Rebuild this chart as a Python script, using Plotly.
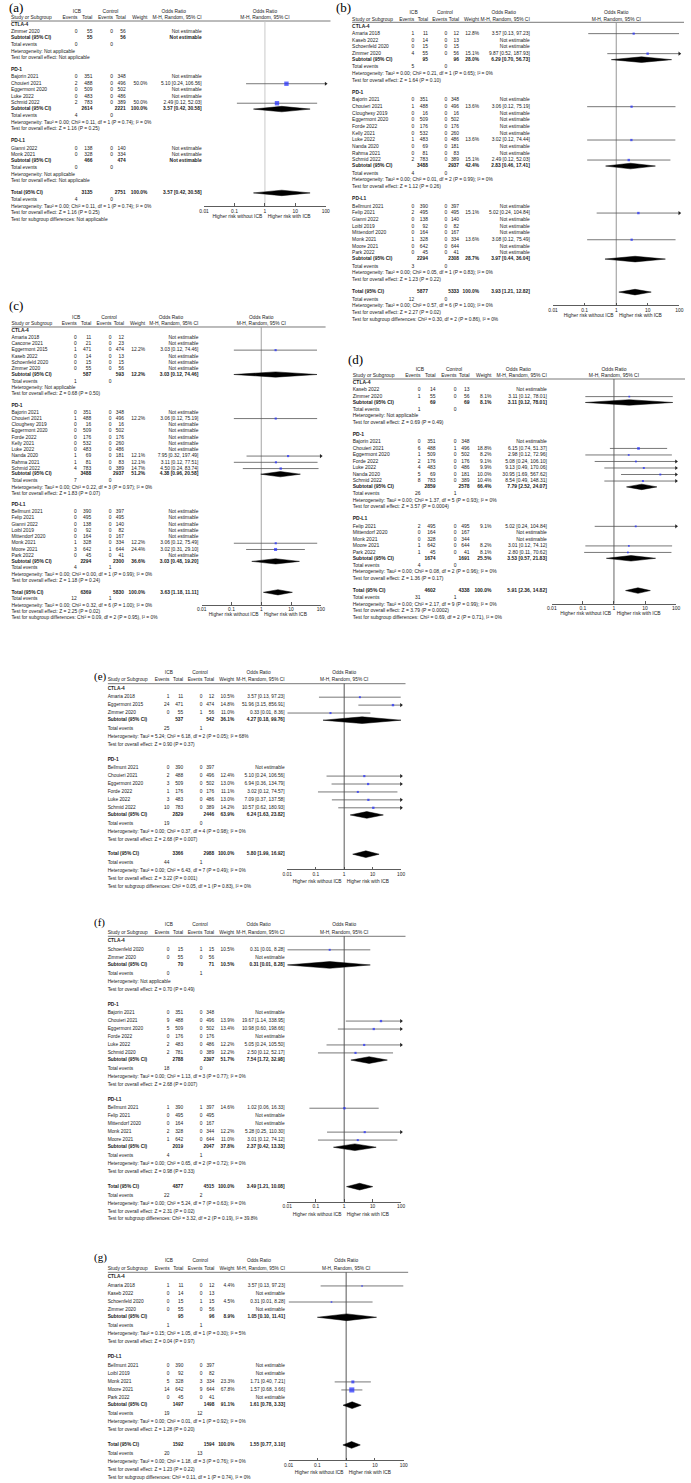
import plotly.graph_objects as go

W, H = 691, 1483
N = None

# ---------------- (a) ----------------
A_GROUP = ["CTLA-4", "PD-1", "PD-1", "PD-1", "PD-1", "PD-1", "PD-L1", "PD-L1"]
A_STUDY = ["Zimmer 2020", "Bajorin 2021", "Chouieri 2021", "Eggermont 2020", "Luke 2022", "Schmid 2022", "Gianni 2022", "Monk 2021"]
A_ICB_EV = [0, 0, 2, 0, 0, 2, 0, 0]
A_ICB_N = [55, 351, 488, 509, 483, 783, 138, 328]
A_CTL_EV = [0, 0, 0, 0, 0, 0, 0, 0]
A_CTL_N = [56, 348, 496, 502, 486, 389, 140, 334]
A_WEIGHT = [N, N, 50.0, N, N, 50.0, N, N]
A_OR = [N, N, 5.10, N, N, 2.49, N, N]
A_LO = [N, N, 0.24, N, N, 0.12, N, N]
A_HI = [N, N, 106.56, N, N, 52.03, N, N]
A_SUB_NAME = ["CTLA-4", "PD-1", "PD-L1"]
A_SUB_ICB_EV = [0, 4, 0]
A_SUB_ICB_N = [55, 2614, 466]
A_SUB_CTL_EV = [0, 0, 0]
A_SUB_CTL_N = [56, 2221, 474]
A_SUB_WEIGHT = [N, 100.0, N]
A_SUB_OR = [N, 3.57, N]
A_SUB_LO = [N, 0.42, N]
A_SUB_HI = [N, 30.58, N]
A_SUB_HET = ["Not applicable", "Tau² = 0.00; Chi² = 0.11, df = 1 (P = 0.74); I² = 0%", "Not applicable"]
A_SUB_TEST = ["Not applicable", "Z = 1.16 (P = 0.25)", "Not applicable"]
A_TOT_N = [3135, 2751]
A_TOT_EV = [4, 0]
A_TOT_EST = [3.57, 0.42, 30.58]
A_TOT_STATS = ["Tau² = 0.00; Chi² = 0.11, df = 1 (P = 0.74); I² = 0%", "Z = 1.16 (P = 0.25)", "Not applicable"]

# ---------------- (b) ----------------
B_GROUP = ["CTLA-4"] * 4 + ["PD-1"] * 10 + ["PD-L1"] * 8
B_STUDY = ["Amaria 2018", "Kaseb 2022", "Schoenfeld 2020", "Zimmer 2020",
           "Bajorin 2021", "Chouieri 2021", "Cloughesy 2019", "Eggermont 2020", "Forde 2022", "Kelly 2021",
           "Luke 2022", "Nanda 2020", "Rahma 2021", "Schmid 2022",
           "Bellmunt 2021", "Felip 2021", "Gianni 2022", "Loibl 2019", "Mittendorf 2020", "Monk 2021",
           "Moore 2021", "Park 2022"]
B_ICB_EV = [1, 0, 0, 4, 0, 1, 0, 0, 0, 0, 1, 0, 0, 2, 0, 2, 0, 0, 0, 1, 0, 0]
B_ICB_N = [11, 14, 15, 55, 351, 488, 16, 509, 176, 532, 483, 69, 81, 783, 390, 495, 138, 92, 164, 328, 642, 45]
B_CTL_EV = [0] * 22
B_CTL_N = [12, 13, 15, 56, 348, 496, 16, 502, 176, 260, 486, 181, 83, 389, 397, 495, 140, 82, 167, 334, 644, 41]
B_WEIGHT = [12.8, N, N, 15.1, N, 13.6, N, N, N, N, 13.6, N, N, 15.1, N, 15.1, N, N, N, 13.6, N, N]
B_OR = [3.57, N, N, 9.87, N, 3.06, N, N, N, N, 3.02, N, N, 2.49, N, 5.02, N, N, N, 3.08, N, N]
B_LO = [0.13, N, N, 0.52, N, 0.12, N, N, N, N, 0.12, N, N, 0.12, N, 0.24, N, N, N, 0.12, N, N]
B_HI = [97.23, N, N, 187.93, N, 75.19, N, N, N, N, 74.44, N, N, 52.03, N, 104.84, N, N, N, 75.49, N, N]
B_SUB_NAME = ["CTLA-4", "PD-1", "PD-L1"]
B_SUB_ICB_EV = [5, 4, 3]
B_SUB_ICB_N = [95, 3488, 2294]
B_SUB_CTL_EV = [0, 0, 0]
B_SUB_CTL_N = [96, 2937, 2308]
B_SUB_WEIGHT = [28.0, 42.4, 28.7]
B_SUB_OR = [6.29, 2.83, 3.97]
B_SUB_LO = [0.70, 0.46, 0.44]
B_SUB_HI = [56.73, 17.41, 36.04]
B_SUB_HET = ["Tau² = 0.00; Chi² = 0.21, df = 1 (P = 0.65); I² = 0%",
             "Tau² = 0.00; Chi² = 0.01, df = 2 (P = 0.99); I² = 0%",
             "Tau² = 0.00; Chi² = 0.05, df = 1 (P = 0.83); I² = 0%"]
B_SUB_TEST = ["Z = 1.64 (P = 0.10)", "Z = 1.12 (P = 0.26)", "Z = 1.23 (P = 0.22)"]
B_TOT_N = [5877, 5333]
B_TOT_EV = [12, 0]
B_TOT_EST = [3.93, 1.21, 12.82]
B_TOT_STATS = ["Tau² = 0.00; Chi² = 0.57, df = 6 (P = 1.00); I² = 0%", "Z = 2.27 (P = 0.02)",
               "Chi² = 0.30, df = 2 (P = 0.86), I² = 0%"]

# ---------------- (c) ----------------
C_GROUP = ["CTLA-4"] * 6 + ["PD-1"] * 10 + ["PD-L1"] * 8
C_STUDY = ["Amaria 2018", "Cascone 2021", "Eggermont 2015", "Kaseb 2022", "Schoenfeld 2020", "Zimmer 2020",
           "Bajorin 2021", "Chouieri 2021", "Cloughesy 2019", "Eggermont 2020", "Forde 2022", "Kelly 2021",
           "Luke 2022", "Nanda 2020", "Rahma 2021", "Schmid 2022",
           "Bellmunt 2021", "Felip 2021", "Gianni 2022", "Loibl 2019", "Mittendorf 2020", "Monk 2021",
           "Moore 2021", "Park 2022"]
C_ICB_EV = [0, 0, 1, 0, 0, 0, 0, 1, 0, 0, 0, 0, 0, 1, 1, 4, 0, 0, 0, 0, 0, 1, 3, 0]
C_ICB_N = [11, 21, 471, 14, 15, 55, 351, 488, 16, 509, 176, 532, 483, 69, 81, 783, 390, 495, 138, 92, 164, 328, 642, 45]
C_CTL_EV = [0, 0, 0, 0, 0, 0, 0, 0, 0, 0, 0, 0, 0, 0, 0, 0, 0, 0, 0, 0, 0, 0, 1, 0]
C_CTL_N = [12, 23, 474, 13, 15, 56, 348, 496, 16, 502, 176, 260, 486, 181, 83, 389, 397, 495, 140, 82, 167, 334, 644, 41]
C_WEIGHT = [N, N, 12.2, N, N, N, N, 12.2, N, N, N, N, N, 12.1, 12.1, 14.7, N, N, N, N, N, 12.2, 24.4, N]
C_OR = [N, N, 3.03, N, N, N, N, 3.06, N, N, N, N, N, 7.95, 3.11, 4.50, N, N, N, N, N, 3.06, 3.02, N]
C_LO = [N, N, 0.12, N, N, N, N, 0.12, N, N, N, N, N, 0.32, 0.12, 0.24, N, N, N, N, N, 0.12, 0.31, N]
C_HI = [N, N, 74.46, N, N, N, N, 75.19, N, N, N, N, N, 197.49, 77.51, 83.74, N, N, N, N, N, 75.49, 29.10, N]
C_SUB_NAME = ["CTLA-4", "PD-1", "PD-L1"]
C_SUB_ICB_EV = [1, 7, 4]
C_SUB_ICB_N = [587, 3488, 2294]
C_SUB_CTL_EV = [0, 0, 1]
C_SUB_CTL_N = [593, 2937, 2300]
C_SUB_WEIGHT = [12.2, 51.2, 36.6]
C_SUB_OR = [3.03, 4.38, 3.03]
C_SUB_LO = [0.12, 0.96, 0.48]
C_SUB_HI = [74.46, 20.58, 19.20]
C_SUB_HET = ["Not applicable",
             "Tau² = 0.00; Chi² = 0.22, df = 3 (P = 0.97); I² = 0%",
             "Tau² = 0.00; Chi² = 0.00, df = 1 (P = 0.99); I² = 0%"]
C_SUB_TEST = ["Z = 0.68 (P = 0.50)", "Z = 1.83 (P = 0.07)", "Z = 1.18 (P = 0.24)"]
C_TOT_N = [6369, 5830]
C_TOT_EV = [12, 1]
C_TOT_EST = [3.63, 1.18, 11.11]
C_TOT_STATS = ["Tau² = 0.00; Chi² = 0.32, df = 6 (P = 1.00); I² = 0%", "Z = 2.25 (P = 0.02)",
               "Chi² = 0.09, df = 2 (P = 0.95), I² = 0%"]

# ---------------- (d) ----------------
D_GROUP = ["CTLA-4"] * 2 + ["PD-1"] * 7 + ["PD-L1"] * 5
D_STUDY = ["Kaseb 2022", "Zimmer 2020",
           "Bajorin 2021", "Chouieri 2021", "Eggermont 2020", "Forde 2022", "Luke 2022", "Nanda 2020", "Schmid 2022",
           "Felip 2021", "Mittendorf 2020", "Monk 2021", "Moore 2021", "Park 2022"]
D_ICB_EV = [0, 1, 0, 6, 1, 2, 4, 5, 8, 2, 0, 0, 1, 1]
D_ICB_N = [14, 55, 351, 488, 509, 176, 483, 69, 783, 495, 164, 328, 642, 45]
D_CTL_EV = [0, 0, 0, 1, 0, 0, 0, 0, 0, 0, 0, 0, 0, 0]
D_CTL_N = [13, 56, 348, 496, 502, 176, 486, 181, 389, 495, 167, 344, 644, 41]
D_WEIGHT = [N, 8.1, N, 18.8, 8.2, 9.1, 9.9, 10.0, 10.4, 9.1, N, N, 8.2, 8.1]
D_OR = [N, 3.11, N, 6.15, 2.98, 5.08, 9.13, 30.95, 8.54, 5.02, N, N, 3.01, 2.80]
D_LO = [N, 0.12, N, 0.74, 0.12, 0.24, 0.49, 1.69, 0.49, 0.24, N, N, 0.12, 0.11]
D_HI = [N, 78.01, N, 51.37, 72.96, 106.10, 170.06, 567.62, 148.31, 104.84, N, N, 74.12, 70.62]
D_SUB_NAME = ["CTLA-4", "PD-1", "PD-L1"]
D_SUB_ICB_EV = [1, 26, 4]
D_SUB_ICB_N = [69, 2859, 1674]
D_SUB_CTL_EV = [0, 1, 0]
D_SUB_CTL_N = [69, 2578, 1691]
D_SUB_WEIGHT = [8.1, 66.4, 25.5]
D_SUB_OR = [3.11, 7.79, 3.53]
D_SUB_LO = [0.12, 2.52, 0.57]
D_SUB_HI = [78.01, 24.07, 21.83]
D_SUB_HET = ["Not applicable",
             "Tau² = 0.00; Chi² = 1.37, df = 5 (P = 0.93); I² = 0%",
             "Tau² = 0.00; Chi² = 0.08, df = 2 (P = 0.96); I² = 0%"]
D_SUB_TEST = ["Z = 0.69 (P = 0.49)", "Z = 3.57 (P = 0.0004)", "Z = 1.36 (P = 0.17)"]
D_TOT_N = [4602, 4338]
D_TOT_EV = [31, 1]
D_TOT_EST = [5.91, 2.36, 14.82]
D_TOT_STATS = ["Tau² = 0.00; Chi² = 2.17, df = 9 (P = 0.99); I² = 0%", "Z = 3.79 (P = 0.0002)",
               "Chi² = 0.69, df = 2 (P = 0.71), I² = 0%"]

# ---------------- (e) ----------------
E_GROUP = ["CTLA-4"] * 3 + ["PD-1"] * 6
E_STUDY = ["Amaria 2018", "Eggermont 2015", "Zimmer 2020",
           "Bellmunt 2021", "Chouieri 2021", "Eggermont 2020", "Forde 2022", "Luke 2022", "Schmid 2022"]
E_ICB_EV = [1, 24, 0, 0, 2, 3, 1, 3, 10]
E_ICB_N = [11, 471, 55, 390, 488, 509, 176, 483, 783]
E_CTL_EV = [0, 0, 1, 0, 0, 0, 0, 0, 0]
E_CTL_N = [12, 474, 56, 397, 496, 502, 176, 486, 389]
E_WEIGHT = [10.5, 14.8, 11.0, N, 12.4, 13.0, 11.1, 13.0, 14.2]
E_OR = [3.57, 51.96, 0.33, N, 5.10, 6.94, 3.02, 7.09, 10.57]
E_LO = [0.13, 3.15, 0.01, N, 0.24, 0.36, 0.12, 0.37, 0.62]
E_HI = [97.23, 856.91, 8.36, N, 106.56, 134.79, 74.57, 137.58, 180.93]
E_SUB_NAME = ["CTLA-4", "PD-1"]
E_SUB_ICB_EV = [25, 19]
E_SUB_ICB_N = [537, 2829]
E_SUB_CTL_EV = [1, 0]
E_SUB_CTL_N = [542, 2446]
E_SUB_WEIGHT = [36.1, 63.9]
E_SUB_OR = [4.27, 6.24]
E_SUB_LO = [0.18, 1.63]
E_SUB_HI = [99.76, 23.82]
E_SUB_HET = ["Tau² = 5.24; Chi² = 6.18, df = 2 (P = 0.05); I² = 68%",
             "Tau² = 0.00; Chi² = 0.37, df = 4 (P = 0.98); I² = 0%"]
E_SUB_TEST = ["Z = 0.90 (P = 0.37)", "Z = 2.68 (P = 0.007)"]
E_TOT_N = [3366, 2988]
E_TOT_EV = [44, 1]
E_TOT_EST = [5.80, 1.99, 16.92]
E_TOT_STATS = ["Tau² = 0.00; Chi² = 6.43, df = 7 (P = 0.49); I² = 0%", "Z = 3.22 (P = 0.001)",
               "Chi² = 0.05, df = 1 (P = 0.83), I² = 0%"]

# ---------------- (f) ----------------
F_GROUP = ["CTLA-4"] * 2 + ["PD-1"] * 6 + ["PD-L1"] * 5
F_STUDY = ["Schoenfeld 2020", "Zimmer 2020",
           "Bajorin 2021", "Chouieri 2021", "Eggermont 2020", "Forde 2022", "Luke 2022", "Schmid 2020",
           "Bellmunt 2021", "Felip 2021", "Mittendorf 2020", "Monk 2021", "Moore 2021"]
F_ICB_EV = [0, 0, 0, 9, 5, 0, 2, 2, 1, 0, 0, 2, 1]
F_ICB_N = [15, 55, 351, 488, 509, 176, 483, 781, 390, 495, 164, 328, 642]
F_CTL_EV = [1, 0, 0, 0, 0, 0, 0, 0, 1, 0, 0, 0, 0]
F_CTL_N = [15, 56, 348, 496, 502, 176, 486, 389, 397, 495, 167, 344, 644]
F_WEIGHT = [10.5, N, N, 13.9, 13.4, N, 12.2, 12.2, 14.6, N, N, 12.2, 11.0]
F_OR = [0.31, N, N, 19.67, 10.98, N, 5.05, 2.50, 1.02, N, N, 5.28, 3.01]
F_LO = [0.01, N, N, 1.14, 0.60, N, 0.24, 0.12, 0.06, N, N, 0.25, 0.12]
F_HI = [8.28, N, N, 338.95, 198.66, N, 105.50, 52.17, 16.33, N, N, 110.30, 74.12]
F_SUB_NAME = ["CTLA-4", "PD-1", "PD-L1"]
F_SUB_ICB_EV = [0, 18, 4]
F_SUB_ICB_N = [70, 2788, 2019]
F_SUB_CTL_EV = [1, 0, 1]
F_SUB_CTL_N = [71, 2397, 2047]
F_SUB_WEIGHT = [10.5, 51.7, 37.8]
F_SUB_OR = [0.31, 7.54, 2.37]
F_SUB_LO = [0.01, 1.72, 0.42]
F_SUB_HI = [8.28, 32.98, 13.33]
F_SUB_HET = ["Not applicable",
             "Tau² = 0.00; Chi² = 1.13, df = 3 (P = 0.77); I² = 0%",
             "Tau² = 0.00; Chi² = 0.65, df = 2 (P = 0.72); I² = 0%"]
F_SUB_TEST = ["Z = 0.70 (P = 0.49)", "Z = 2.68 (P = 0.007)", "Z = 0.98 (P = 0.33)"]
F_TOT_N = [4877, 4515]
F_TOT_EV = [22, 2]
F_TOT_EST = [3.49, 1.21, 10.08]
F_TOT_STATS = ["Tau² = 0.00; Chi² = 5.24, df = 7 (P = 0.63); I² = 0%", "Z = 2.31 (P = 0.02)",
               "Chi² = 3.32, df = 2 (P = 0.19), I² = 39.8%"]

# ---------------- (g) ----------------
G_GROUP = ["CTLA-4"] * 4 + ["PD-L1"] * 5
G_STUDY = ["Amaria 2018", "Kaseb 2022", "Schoenfeld 2020", "Zimmer 2020",
           "Bellmunt 2021", "Loibl 2019", "Monk 2021", "Moore 2021", "Park 2022"]
G_ICB_EV = [1, 0, 0, 0, 0, 0, 5, 14, 0]
G_ICB_N = [11, 14, 15, 55, 390, 92, 328, 642, 45]
G_CTL_EV = [0, 0, 1, 0, 0, 0, 3, 9, 0]
G_CTL_N = [12, 13, 15, 56, 397, 82, 334, 644, 41]
G_WEIGHT = [4.4, N, 4.5, N, N, N, 23.3, 67.8, N]
G_OR = [3.57, N, 0.31, N, N, N, 1.71, 1.57, N]
G_LO = [0.13, N, 0.01, N, N, N, 0.40, 0.68, N]
G_HI = [97.23, N, 8.28, N, N, N, 7.21, 3.66, N]
G_SUB_NAME = ["CTLA-4", "PD-L1"]
G_SUB_ICB_EV = [1, 19]
G_SUB_ICB_N = [95, 1497]
G_SUB_CTL_EV = [1, 12]
G_SUB_CTL_N = [96, 1498]
G_SUB_WEIGHT = [8.9, 91.1]
G_SUB_OR = [1.05, 1.61]
G_SUB_LO = [0.10, 0.78]
G_SUB_HI = [11.41, 3.33]
G_SUB_HET = ["Tau² = 0.15; Chi² = 1.05, df = 1 (P = 0.30); I² = 5%",
             "Tau² = 0.00; Chi² = 0.01, df = 1 (P = 0.92); I² = 0%"]
G_SUB_TEST = ["Z = 0.04 (P = 0.97)", "Z = 1.28 (P = 0.20)"]
G_TOT_N = [1592, 1594]
G_TOT_EV = [20, 13]
G_TOT_EST = [1.55, 0.77, 3.10]
G_TOT_STATS = ["Tau² = 0.00; Chi² = 1.18, df = 3 (P = 0.76); I² = 0%", "Z = 1.23 (P = 0.22)",
               "Chi² = 0.11, df = 1 (P = 0.74), I² = 0%"]

TICK_VALS = [0.01, 0.1, 1, 10, 100]
TICK_TEXT = ["0.01", "0.1", "1", "10", "100"]
LEFT_LABEL = "Higher risk without ICB"
RIGHT_LABEL = "Higher risk with ICB"

# ---------------- layout / style constants ----------------
GEOM = {
    "a": dict(x0=6.0, tw=193.3, fl=201.7, fr=325.0, hr=330.0, line=21.0, u=6.5, fs=4.9, vcol="#c4c4c4",
              gap=2.0, lab=(2, 8), labfs=13),
    "b": dict(x0=351.7, tw=180.0, fl=555.3, fr=683.3, hr=688.0, line=22.3, u=6.67, fs=4.9, vcol="#8a8a8a",
              gap=2.0, lab=(333, 8), labfs=13),
    "c": dict(x0=6.5, tw=189.5, fl=199.3, fr=320.0, hr=325.0, line=327.0, u=6.25, fs=4.9, vcol="#9a9a9a",
              gap=2.0, lab=(2, 306), labfs=13),
    "d": dict(x0=352.3, tw=196.7, fl=554.0, fr=680.0, hr=689.0, line=379.0, u=6.52, fs=5.0, vcol="#555555",
              gap=2.0, lab=(346, 359), labfs=13),
    "e": dict(x0=104.0, tw=179.3, fl=286.0, fr=401.3, hr=406.0, line=683.7, u=7.93, fs=4.8, vcol="#444444",
              gap=1.9, lab=(88, 676), labfs=11),
    "f": dict(x0=104.0, tw=179.3, fl=286.0, fr=401.3, hr=406.0, line=936.3, u=7.96, fs=4.8, vcol="#444444",
              gap=1.9, lab=(88, 922), labfs=11),
    "g": dict(x0=104.0, tw=179.7, fl=287.3, fr=404.0, hr=408.7, line=1272.3, u=8.03, fs=4.8, vcol="#444444",
              gap=1.9, lab=(88, 1257), labfs=11),
}
COLS = dict(ev1=0.349, n1=0.427, ev2=0.535, n2=0.602, wt=0.715, ci=1.0, icb=0.346, ctl=0.522, orc=0.853)
FONT = "Liberation Sans, Arial, sans-serif"
TXT = "#1a1a1a"
LINE_COL = "#555555"
SQ_COL = "#1f2bff"
NAMES = ["GROUP", "STUDY", "ICB_EV", "ICB_N", "CTL_EV", "CTL_N", "WEIGHT", "OR", "LO", "HI",
         "SUB_NAME", "SUB_ICB_EV", "SUB_ICB_N", "SUB_CTL_EV", "SUB_CTL_N", "SUB_WEIGHT", "SUB_OR",
         "SUB_LO", "SUB_HI", "SUB_HET", "SUB_TEST", "TOT_N", "TOT_EV", "TOT_EST", "TOT_STATS"]


def fmt_ci(o, lo, hi):
    return f"{o:.2f} [{lo:.2f}, {hi:.2f}]"


def layout_rows(D):
    rows = []
    u = 0.6
    for gi, name in enumerate(D["SUB_NAME"]):
        if gi > 0:
            u += 1.85
        rows.append(("head", u, gi))
        u += 1.1
        idx = [i for i, gname in enumerate(D["GROUP"]) if gname == name]
        for j, i in enumerate(idx):
            if j > 0:
                u += 1.0
            rows.append(("study", u, i))
        u += 0.9
        rows.append(("sub", u, gi))
        u += 1.1
        rows.append(("sev", u, gi))
        u += 1.0
        rows.append(("shet", u, gi))
        u += 1.0
        rows.append(("stest", u, gi))
    u += 1.85
    rows.append(("tot", u, None))
    u += 1.1
    rows.append(("tev", u, None))
    u += 1.0
    rows.append(("thet", u, None))
    u += 1.0
    rows.append(("ttest", u, None))
    u += 1.0
    rows.append(("tsg", u, None))
    return rows


fig = go.Figure()
layout = dict(width=W, height=H, margin=dict(l=0, r=0, t=0, b=0), autosize=False,
              paper_bgcolor="white", plot_bgcolor="rgba(0,0,0,0)", showlegend=False, annotations=[])

for k, key in enumerate("abcdefg"):
    K = key.upper()
    D = {n: globals()[f"{K}_{n}"] for n in NAMES}
    g = GEOM[key]
    tn, fn, yn = 2 * k + 1, 2 * k + 2, k + 1
    xt = "x" if tn == 1 else f"x{tn}"
    xf = f"x{fn}"
    yk = "y" if yn == 1 else f"y{yn}"
    rows = layout_rows(D)
    tot_u = [r[1] for r in rows if r[0] == "tot"][0]
    last_u = rows[-1][1]
    axis_u = tot_u + g["gap"]
    lab_u = axis_u + 1.6
    top_px = max(0.0, g["line"] - 2.3 * g["u"])
    bot_px = min(float(H), g["line"] + (max(last_u, lab_u) + 0.7) * g["u"])
    ymin = (top_px - g["line"]) / g["u"]
    ymax = (bot_px - g["line"]) / g["u"]
    axis_px = g["line"] + axis_u * g["u"]

    layout["xaxis" + ("" if tn == 1 else str(tn))] = dict(
        domain=[g["x0"] / W, g["hr"] / W], range=[0, g["hr"] - g["x0"]], anchor=yk, visible=False,
        fixedrange=True)
    layout["xaxis" + str(fn)] = dict(
        type="log", range=[-2, 2], domain=[g["fl"] / W, g["fr"] / W], anchor="free",
        position=1 - axis_px / H,
        showline=True, linecolor="#333333", linewidth=0.8, ticks="inside", ticklen=2.5, tickwidth=0.8,
        tickcolor="#333333", tickvals=TICK_VALS, ticktext=TICK_TEXT,
        tickfont=dict(size=g["fs"], color=TXT, family=FONT), showgrid=False, zeroline=False,
        fixedrange=True)
    layout["yaxis" + ("" if yn == 1 else str(yn))] = dict(
        domain=[1 - bot_px / H, 1 - top_px / H], range=[ymax, ymin], anchor=xt, visible=False,
        fixedrange=True)

    cx = {c: g["tw"] * f for c, f in COLS.items()}
    L, R, C = ([], [], []), ([], [], []), ([], [], [])

    def add(bucket, x, y, t):
        bucket[0].append(x)
        bucket[1].append(y)
        bucket[2].append(t)

    # header (regular weight, as in the source figure)
    add(C, cx["icb"], -1.4, "ICB")
    add(C, cx["ctl"], -1.4, "Control")
    add(C, cx["orc"], -1.4, "Odds Ratio")
    add(L, 0, -0.45, "Study or Subgroup")
    for c, t in [("ev1", "Events"), ("n1", "Total"), ("ev2", "Events"), ("n2", "Total"),
                 ("wt", "Weight"), ("ci", "M-H, Random, 95% CI")]:
        add(R, cx[c], -0.45, t)

    line_x, line_y = [], []
    sq_x, sq_y, sq_s = [], [], []
    ar_r, ar_l = ([], []), ([], [])
    dia_x, dia_y = [], []
    hh = 0.42

    def diamond(o, lo, hi, y):
        lo2, hi2 = max(lo, 0.01), min(hi, 100)
        dia_x.extend([lo2, o, hi2, o, lo2, None])
        dia_y.extend([y, y - hh, y, y + hh, y, None])

    for kind, y, i in rows:
        if kind == "head":
            add(L, 0, y, f"<b>{D['SUB_NAME'][i]}</b>")
        elif kind == "study":
            add(L, 0, y, D["STUDY"][i])
            add(R, cx["ev1"], y, str(D["ICB_EV"][i]))
            add(R, cx["n1"], y, str(D["ICB_N"][i]))
            add(R, cx["ev2"], y, str(D["CTL_EV"][i]))
            add(R, cx["n2"], y, str(D["CTL_N"][i]))
            o = D["OR"][i]
            if o is None:
                add(R, cx["ci"], y, "Not estimable")
            else:
                lo, hi, w = D["LO"][i], D["HI"][i], D["WEIGHT"][i]
                add(R, cx["wt"], y, f"{w:.1f}%")
                add(R, cx["ci"], y, fmt_ci(o, lo, hi))
                line_x.extend([max(lo, 0.01), min(hi, 100), None])
                line_y.extend([y, y, None])
                if hi > 100:
                    ar_r[0].append(100)
                    ar_r[1].append(y)
                if lo < 0.01:
                    ar_l[0].append(0.01)
                    ar_l[1].append(y)
                sq_x.append(o)
                sq_y.append(y)
                sq_s.append(max(1.6, 0.62 * w ** 0.5))
        elif kind == "sub":
            add(L, 0, y, "<b>Subtotal (95% CI)</b>")
            add(R, cx["n1"], y, f"<b>{D['SUB_ICB_N'][i]}</b>")
            add(R, cx["n2"], y, f"<b>{D['SUB_CTL_N'][i]}</b>")
            o = D["SUB_OR"][i]
            if o is None:
                add(R, cx["ci"], y, "<b>Not estimable</b>")
            else:
                add(R, cx["wt"], y, f"<b>{D['SUB_WEIGHT'][i]:.1f}%</b>")
                add(R, cx["ci"], y, f"<b>{fmt_ci(o, D['SUB_LO'][i], D['SUB_HI'][i])}</b>")
                diamond(o, D["SUB_LO"][i], D["SUB_HI"][i], y)
        elif kind == "sev":
            add(L, 0, y, "Total events")
            add(R, cx["ev1"], y, str(D["SUB_ICB_EV"][i]))
            add(R, cx["ev2"], y, str(D["SUB_CTL_EV"][i]))
        elif kind == "shet":
            add(L, 0, y, "Heterogeneity: " + D["SUB_HET"][i])
        elif kind == "stest":
            add(L, 0, y, "Test for overall effect: " + D["SUB_TEST"][i])
        elif kind == "tot":
            o, lo, hi = D["TOT_EST"]
            add(L, 0, y, "<b>Total (95% CI)</b>")
            add(R, cx["n1"], y, f"<b>{D['TOT_N'][0]}</b>")
            add(R, cx["n2"], y, f"<b>{D['TOT_N'][1]}</b>")
            add(R, cx["wt"], y, "<b>100.0%</b>")
            add(R, cx["ci"], y, f"<b>{fmt_ci(o, lo, hi)}</b>")
            diamond(o, lo, hi, y)
        elif kind == "tev":
            add(L, 0, y, "Total events")
            add(R, cx["ev1"], y, str(D["TOT_EV"][0]))
            add(R, cx["ev2"], y, str(D["TOT_EV"][1]))
        elif kind == "thet":
            add(L, 0, y, "Heterogeneity: " + D["TOT_STATS"][0])
        elif kind == "ttest":
            add(L, 0, y, "Test for overall effect: " + D["TOT_STATS"][1])
        elif kind == "tsg":
            add(L, 0, y, "Test for subgroup differences: " + D["TOT_STATS"][2])

    # header rule
    fig.add_trace(go.Scatter(x=[0, g["hr"] - g["x0"]], y=[0, 0], mode="lines",
                             line=dict(color="#555555", width=0.8), xaxis=xt, yaxis=yk, hoverinfo="skip"))
    # line of no effect
    fig.add_trace(go.Scatter(x=[1, 1], y=[0, axis_u], mode="lines",
                             line=dict(color=g["vcol"], width=0.9), xaxis=xf, yaxis=yk, hoverinfo="skip"))
    # CI lines
    if line_x:
        fig.add_trace(go.Scatter(x=line_x, y=line_y, mode="lines", line=dict(color=LINE_COL, width=0.8),
                                 xaxis=xf, yaxis=yk, hoverinfo="skip", cliponaxis=False))
    for (ax, ay), sym in [(ar_r, "triangle-right"), (ar_l, "triangle-left")]:
        if ax:
            fig.add_trace(go.Scatter(x=ax, y=ay, mode="markers",
                                     marker=dict(symbol=sym, size=3.6, color="#222222", line=dict(width=0)),
                                     xaxis=xf, yaxis=yk, hoverinfo="skip", cliponaxis=False))
    if sq_x:
        fig.add_trace(go.Scatter(x=sq_x, y=sq_y, mode="markers",
                                 marker=dict(symbol="square", size=sq_s, color=SQ_COL, line=dict(width=0)),
                                 xaxis=xf, yaxis=yk, hoverinfo="skip", cliponaxis=False))
    if dia_x:
        fig.add_trace(go.Scatter(x=dia_x, y=dia_y, mode="lines", fill="toself", fillcolor="#000000",
                                 line=dict(color="#000000", width=0.5), xaxis=xf, yaxis=yk, hoverinfo="skip"))

    tf = dict(size=g["fs"], color=TXT, family=FONT)
    for bucket, pos in [(L, "middle right"), (R, "middle left"), (C, "middle center")]:
        fig.add_trace(go.Scatter(x=bucket[0], y=bucket[1], text=bucket[2], mode="text", textposition=pos,
                                 textfont=tf, xaxis=xt, yaxis=yk, hoverinfo="skip", cliponaxis=False))
    # forest header and direction labels
    fig.add_trace(go.Scatter(x=[1, 1], y=[-1.4, -0.45],
                             text=["Odds Ratio", "M-H, Random, 95% CI"],
                             mode="text", textposition="middle center", textfont=tf,
                             xaxis=xf, yaxis=yk, hoverinfo="skip", cliponaxis=False))
    fig.add_trace(go.Scatter(x=[1], y=[lab_u], text=[LEFT_LABEL + "\u00a0\u00a0"], mode="text",
                             textposition="middle left", textfont=tf, xaxis=xf, yaxis=yk,
                             hoverinfo="skip", cliponaxis=False))
    fig.add_trace(go.Scatter(x=[1], y=[lab_u], text=["\u00a0\u00a0" + RIGHT_LABEL], mode="text",
                             textposition="middle right", textfont=tf, xaxis=xf, yaxis=yk,
                             hoverinfo="skip", cliponaxis=False))

    layout["annotations"].append(dict(
        text=f"({key})", xref="paper", yref="paper", x=g["lab"][0] / W, y=1 - g["lab"][1] / H,
        xanchor="left", yanchor="middle", showarrow=False,
        font=dict(family="Liberation Serif, Times New Roman, serif", size=g["labfs"], color="#000000")))

fig.update_layout(**layout)
fig.write_html("out.html", config={"displayModeBar": False, "staticPlot": True},
               post_script="document.body.style.margin='0px';document.body.style.overflow='hidden';")
